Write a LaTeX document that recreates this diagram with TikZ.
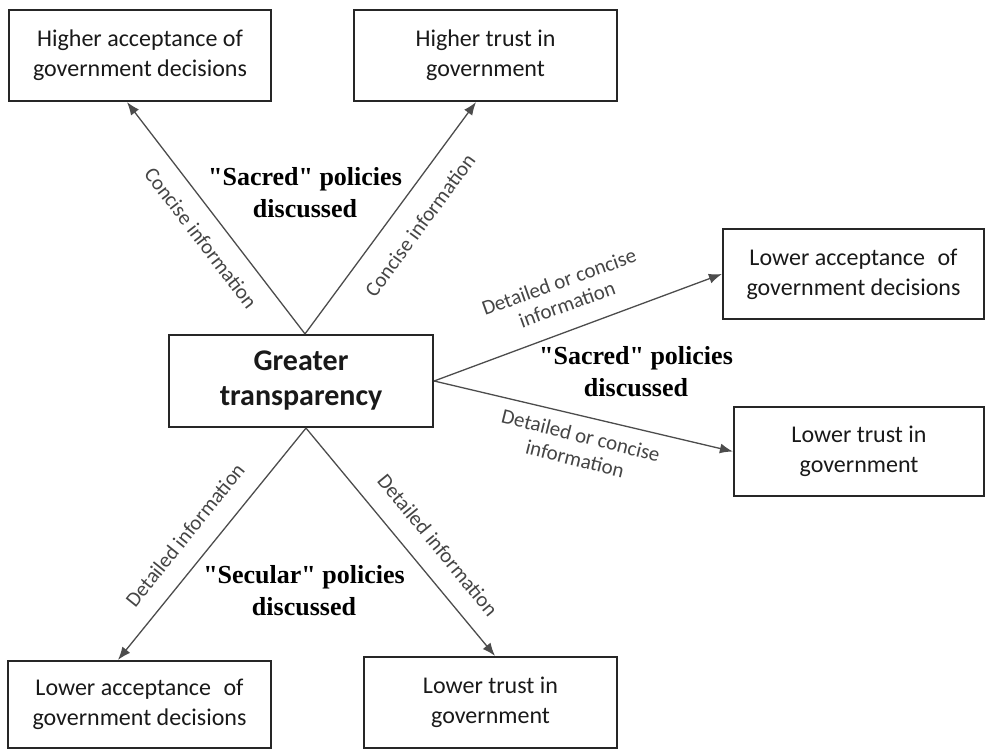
\documentclass[tikz,border=0pt]{standalone}
\usepackage{fontspec}
\setmainfont{Carlito}
\newfontfamily\polfont{Liberation Serif}
\usetikzlibrary{arrows.meta}
\definecolor{boxline}{gray}{0.15}
\definecolor{linegray}{gray}{0.3}
\definecolor{labelgray}{gray}{0.27}
\begin{document}
\begin{tikzpicture}[x=1pt,y=-1pt,
  box/.style={draw=boxline,line width=2.2pt,inner sep=0pt,align=center,
    font=\fontsize{24}{30}\selectfont,text=black!90},
  conn/.style={draw=linegray,line width=1.3pt,-{Latex[length=13pt,width=10pt]}},
  lbl/.style={inner sep=0pt,align=center,text=labelgray,font=\fontsize{21}{24}\selectfont},
  pol/.style={inner sep=0pt,align=center,font=\polfont\bfseries\fontsize{26}{32}\selectfont}]
\useasboundingbox (0,0) rectangle (985,751);
% boxes
\node[box,minimum width=262pt,minimum height=91pt] (tl) at (140,55.5) {Higher acceptance of\\government decisions};
\node[box,minimum width=263pt,minimum height=91pt] (tc) at (485.5,55.5) {Higher trust in\\government};
\node[box,minimum width=264pt,minimum height=92pt,font=\bfseries\fontsize{30}{35}\selectfont] (c) at (301,381) {Greater\\transparency};
\node[box,minimum width=261pt,minimum height=90pt] (rt) at (853.5,274) {Lower acceptance\hspace{0.3em} of\\government decisions};
\node[box,minimum width=250pt,minimum height=89pt] (rb) at (859,451.5) {Lower trust in\\government};
\node[box,minimum width=263pt,minimum height=87pt] (bl) at (139.5,704.5) {Lower acceptance\hspace{0.3em} of\\government decisions};
\node[box,minimum width=253pt,minimum height=91pt] (bc) at (490.5,702.5) {Lower trust in\\government};
% connectors
\draw[conn] ([xshift=4pt]c.north) -- ([xshift=-13pt]tl.south);
\draw[conn] ([xshift=4pt]c.north) -- ([xshift=-9.5pt]tc.south);
\draw[conn] (c.east) -- (rt.west);
\draw[conn] (c.east) -- (rb.west);
\draw[conn] ([xshift=5pt]c.south) -- ([xshift=-21.5pt]bl.north);
\draw[conn] ([xshift=5pt]c.south) -- ([xshift=4.5pt]bc.north);
% connector labels
\node[lbl,rotate=-52.6] (l1) at (201,238) {Concise information};
\node[lbl,rotate=53.7] (l2) at (420,225) {Concise information};
\node[lbl,rotate=19.7] (l3) at (563,293) {Detailed or concise\\information};
\node[lbl,rotate=-14] (l4) at (578,447) {Detailed or concise\\information};
\node[lbl,rotate=51.2] (l5) at (185,535) {Detailed information};
\node[lbl,rotate=-50.6] (l6) at (438,545) {Detailed information};
% policy texts
\node[pol] (p1) at (305,193) {"Sacred" policies\\discussed};
\node[pol] (p2) at (636,372) {"Sacred" policies\\discussed};
\node[pol] (p3) at (304,591) {"Secular" policies\\discussed};
\end{tikzpicture}
\end{document}
